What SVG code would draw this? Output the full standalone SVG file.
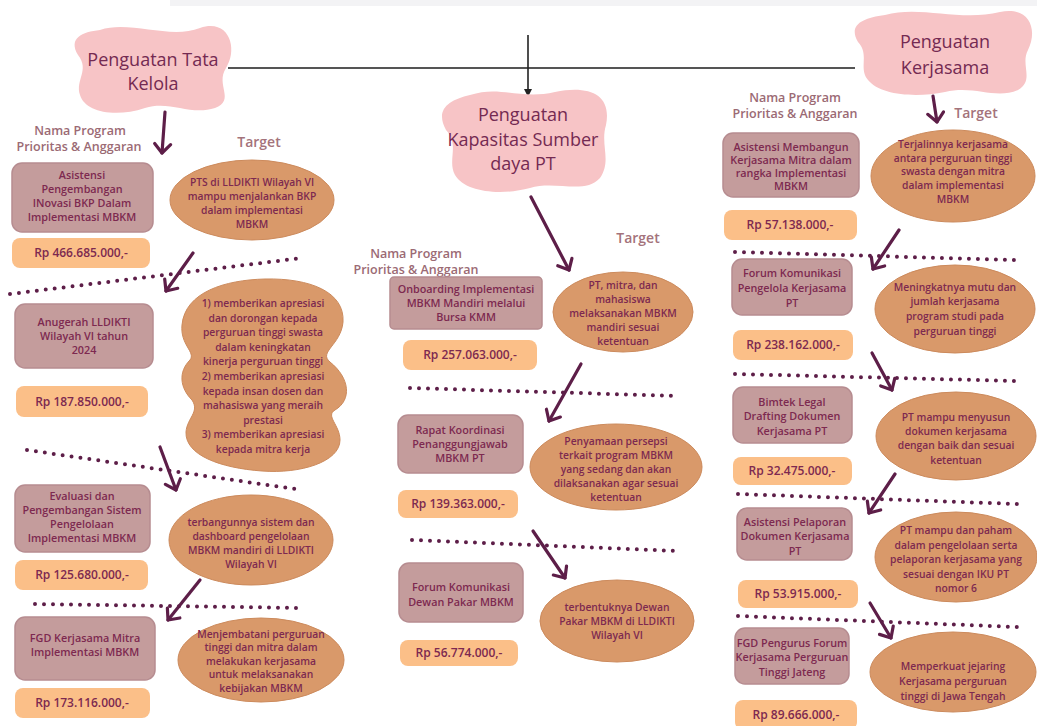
<svg xmlns="http://www.w3.org/2000/svg" width="1037" height="726" viewBox="0 0 1037 726">
<style>
.h{font-family:"Open Sans","Noto Sans",sans-serif;font-size:18px;font-weight:500;fill:#742a52;text-anchor:middle}
.lab{font-family:"Open Sans","Noto Sans",sans-serif;font-size:12.5px;font-weight:600;fill:#9b6a74;text-anchor:middle}
.tg{font-family:"Open Sans","Noto Sans",sans-serif;font-size:14px;font-weight:600;fill:#a4737b;text-anchor:middle}
.bt{font-family:"Open Sans","Noto Sans",sans-serif;font-size:10.8px;font-weight:600;fill:#7d2950;text-anchor:middle}
.et{font-family:"Open Sans","Noto Sans",sans-serif;font-size:10.3px;font-weight:600;fill:#7d2950;text-anchor:middle}
.at{font-family:"Open Sans","Noto Sans",sans-serif;font-size:12px;font-weight:600;fill:#7d2950;text-anchor:middle}
.blob{fill:#f7c4c6}
.box{fill:#c49c9c;stroke:#b68c90;stroke-width:1.5}
.amt{fill:#fbbf88}
.ell{fill:#d9996a;stroke:#cc8a5c;stroke-width:1}
.dot{stroke:#5d1e48;stroke-width:4;stroke-linecap:round;stroke-dasharray:0 9;fill:none}
.arr{stroke:#5d1e48;stroke-width:3.2;fill:none;stroke-linecap:round;marker-end:url(#chev)}
</style>
<defs>
<marker id="chev" markerUnits="userSpaceOnUse" markerWidth="20" markerHeight="20" refX="12" refY="10" orient="auto">
<path d="M3,2 L12,10 L3,18" fill="none" stroke="#5d1e48" stroke-width="3.2" stroke-linecap="round" stroke-linejoin="round"/>
</marker>
<marker id="tri" markerUnits="userSpaceOnUse" markerWidth="10" markerHeight="10" refX="8" refY="5" orient="auto">
<path d="M0,1 L8,5 L0,9 Z" fill="#222"/>
</marker>
</defs>
<rect x="0" y="0" width="1037" height="726" fill="#ffffff"/>
<rect x="170" y="0" width="867" height="6" fill="#f3f3f5"/>

<g id="connectors">
<line x1="228" y1="68" x2="855" y2="68" stroke="#555" stroke-width="2"/>
<line x1="528" y1="35" x2="528" y2="97" stroke="#222" stroke-width="1.6" marker-end="url(#tri)"/>
<line class="arr" x1="165" y1="112" x2="162" y2="153"/>
<line class="arr" x1="531" y1="197" x2="569" y2="270"/>
<line class="arr" x1="933" y1="96" x2="937" y2="122"/>
<line class="dot" x1="10" y1="294" x2="302" y2="258"/>
<line class="dot" x1="27" y1="450" x2="302" y2="490"/>
<line class="dot" x1="35" y1="604" x2="302" y2="608"/>
<line class="arr" x1="193" y1="253" x2="166" y2="291"/>
<line class="arr" x1="160" y1="447" x2="176" y2="490"/>
<line class="arr" x1="200" y1="580" x2="168" y2="620"/>
<line class="dot" x1="410" y1="388" x2="678" y2="396"/>
<line class="dot" x1="412" y1="540" x2="678" y2="551"/>
<line class="arr" x1="581" y1="364" x2="549" y2="421"/>
<line class="arr" x1="533" y1="531" x2="565" y2="578"/>
<line class="dot" x1="735" y1="252" x2="1015" y2="260"/>
<line class="dot" x1="735" y1="374" x2="1015" y2="381"/>
<line class="dot" x1="738" y1="494" x2="1017" y2="504"/>
<line class="dot" x1="738" y1="616" x2="1017" y2="627"/>
<line class="arr" x1="899" y1="230" x2="873" y2="269"/>
<line class="arr" x1="872" y1="353" x2="892" y2="390"/>
<line class="arr" x1="895" y1="474" x2="869" y2="513"/>
<line class="arr" x1="870" y1="603" x2="891" y2="638"/>
</g>

<g id="head-tata-kelola">
<path class="blob" d="M100,30 C130,20 170,40 200,28 C230,18 238,50 226,68 C215,85 236,100 215,108 C190,116 170,100 145,108 C115,118 85,112 80,95 C75,80 90,70 78,55 C68,38 82,32 100,30 Z"/>
<text class="h" x="153" y="66">Penguatan Tata</text>
<text class="h" x="153" y="90">Kelola</text>
</g>
<g id="head-kapasitas">
<path class="blob" d="M470,95 C500,85 520,100 555,92 C590,85 612,95 606,125 C600,145 612,160 600,178 C585,195 555,180 530,188 C500,196 465,192 455,175 C447,160 460,145 446,130 C435,110 448,100 470,95 Z"/>
<text class="h" x="523" y="121">Penguatan</text>
<text class="h" x="523" y="146">Kapasitas Sumber</text>
<text class="h" x="523" y="170">daya PT</text>
</g>
<g id="head-kerjasama">
<path class="blob" d="M885,15 C920,5 960,22 1000,12 C1030,6 1038,30 1028,50 C1020,65 1035,80 1018,90 C995,100 975,85 945,92 C915,98 880,95 868,80 C858,68 870,55 858,42 C848,25 862,18 885,15 Z"/>
<text class="h" x="945" y="48">Penguatan</text>
<text class="h" x="945" y="74">Kerjasama</text>
</g>

<g id="labels">
<text class="lab" x="80" y="135">Nama Program</text>
<text class="lab" x="79" y="151">Prioritas &amp; Anggaran</text>
<text class="tg" x="259" y="147">Target</text>
<text class="lab" x="416" y="258">Nama Program</text>
<text class="lab" x="416" y="274">Prioritas &amp; Anggaran</text>
<text class="tg" x="638" y="243">Target</text>
<text class="lab" x="795" y="102">Nama Program</text>
<text class="lab" x="795" y="118">Prioritas &amp; Anggaran</text>
<text class="tg" x="976" y="118">Target</text>
</g>

<g id="L1-program">
<rect class="box" x="12" y="163" width="141" height="69" rx="10"/>
<text class="bt" x="82" y="179">Asistensi</text>
<text class="bt" x="82" y="193">Pengembangan</text>
<text class="bt" x="82" y="207">INovasi BKP Dalam</text>
<text class="bt" x="82" y="221">Implementasi MBKM</text>
</g>
<g id="L1-amount">
<rect class="amt" x="12" y="238" width="138" height="30" rx="8"/>
<text class="at" x="81" y="257">Rp 466.685.000,-</text>
</g>
<g id="L1-target">
<ellipse class="ell" cx="252" cy="200" rx="82" ry="40"/>
<text class="et" x="252" y="186">PTS di LLDIKTI Wilayah VI</text>
<text class="et" x="252" y="200">mampu menjalankan BKP</text>
<text class="et" x="252" y="214">dalam implementasi</text>
<text class="et" x="252" y="228">MBKM</text>
</g>

<g id="L2-program">
<rect class="box" x="15" y="304" width="138" height="64" rx="10"/>
<text class="bt" x="84" y="326">Anugerah LLDIKTI</text>
<text class="bt" x="84" y="340">Wilayah VI tahun</text>
<text class="bt" x="84" y="354">2024</text>
</g>
<g id="L2-amount">
<rect class="amt" x="16" y="386" width="132" height="31" rx="8"/>
<text class="at" x="82" y="406">Rp 187.850.000,-</text>
</g>
<g id="L2-target">
<path class="ell" d="M265,279 C310,278 345,292 343,322 C341,345 318,352 330,362 C350,378 352,400 335,410 C325,416 340,425 340,440 C340,462 300,474 262,471 C220,468 185,455 186,432 C187,418 200,412 192,400 C180,388 178,372 190,360 C196,352 180,345 182,325 C185,292 225,280 265,279 Z"/>
<text class="et" x="263" y="307">1) memberikan apresiasi</text>
<text class="et" x="263" y="321.6">dan dorongan kepada</text>
<text class="et" x="263" y="336.2">perguruan tinggi swasta</text>
<text class="et" x="263" y="350.8">dalam keningkatan</text>
<text class="et" x="263" y="365.4">kinerja perguruan tinggi</text>
<text class="et" x="263" y="380">2) memberikan apresiasi</text>
<text class="et" x="263" y="394.6">kepada insan dosen dan</text>
<text class="et" x="263" y="409.2">mahasiswa yang meraih</text>
<text class="et" x="263" y="423.8">prestasi</text>
<text class="et" x="263" y="438.4">3) memberikan apresiasi</text>
<text class="et" x="263" y="453">kepada mitra kerja</text>
</g>

<g id="L3-program">
<rect class="box" x="15" y="485" width="135" height="67" rx="10"/>
<text class="bt" x="82" y="500">Evaluasi dan</text>
<text class="bt" x="82" y="514">Pengembangan Sistem</text>
<text class="bt" x="82" y="528">Pengelolaan</text>
<text class="bt" x="82" y="542">Implementasi MBKM</text>
</g>
<g id="L3-amount">
<rect class="amt" x="15" y="560" width="133" height="30" rx="8"/>
<text class="at" x="82" y="579">Rp 125.680.000,-</text>
</g>
<g id="L3-target">
<ellipse class="ell" cx="251" cy="540" rx="82" ry="45"/>
<text class="et" x="251" y="526">terbangunnya sistem dan</text>
<text class="et" x="251" y="540">dashboard pengelolaan</text>
<text class="et" x="251" y="554">MBKM mandiri di LLDIKTI</text>
<text class="et" x="251" y="568">Wilayah VI</text>
</g>

<g id="L4-program">
<rect class="box" x="15" y="617" width="140" height="63" rx="10"/>
<text class="bt" x="85" y="642">FGD Kerjasama Mitra</text>
<text class="bt" x="85" y="656">Implementasi MBKM</text>
</g>
<g id="L4-amount">
<rect class="amt" x="15" y="688" width="135" height="30" rx="8"/>
<text class="at" x="82" y="707">Rp 173.116.000,-</text>
</g>
<g id="L4-target">
<ellipse class="ell" cx="261" cy="660" rx="83" ry="42"/>
<text class="et" x="261" y="638">Menjembatani perguruan</text>
<text class="et" x="261" y="651">tinggi dan mitra dalam</text>
<text class="et" x="261" y="665">melakukan kerjasama</text>
<text class="et" x="261" y="678">untuk melaksanakan</text>
<text class="et" x="261" y="692">kebijakan MBKM</text>
</g>

<g id="M1-program">
<rect class="box" x="390" y="277" width="152" height="52" rx="4"/>
<text class="bt" x="466" y="293">Onboarding Implementasi</text>
<text class="bt" x="466" y="307">MBKM Mandiri melalui</text>
<text class="bt" x="466" y="321">Bursa KMM</text>
</g>
<g id="M1-amount">
<rect class="amt" x="403" y="340" width="134" height="30" rx="8"/>
<text class="at" x="470" y="359">Rp 257.063.000,-</text>
</g>
<g id="M1-target">
<ellipse class="ell" cx="623" cy="312" rx="70" ry="40"/>
<text class="et" x="623" y="289">PT, mitra, dan</text>
<text class="et" x="623" y="303">mahasiswa</text>
<text class="et" x="623" y="317">melaksanakan MBKM</text>
<text class="et" x="623" y="331">mandiri sesuai</text>
<text class="et" x="623" y="345">ketentuan</text>
</g>

<g id="M2-program">
<rect class="box" x="398" y="415" width="125" height="58" rx="10"/>
<text class="bt" x="460" y="434">Rapat Koordinasi</text>
<text class="bt" x="460" y="448">Penanggungjawab</text>
<text class="bt" x="460" y="462">MBKM PT</text>
</g>
<g id="M2-amount">
<rect class="amt" x="398" y="490" width="120" height="28" rx="8"/>
<text class="at" x="458" y="508">Rp 139.363.000,-</text>
</g>
<g id="M2-target">
<ellipse class="ell" cx="616" cy="467" rx="86" ry="43"/>
<text class="et" x="616" y="445">Penyamaan persepsi</text>
<text class="et" x="616" y="459">terkait program MBKM</text>
<text class="et" x="616" y="473">yang sedang dan akan</text>
<text class="et" x="616" y="487">dilaksanakan agar sesuai</text>
<text class="et" x="616" y="501">ketentuan</text>
</g>

<g id="M3-program">
<rect class="box" x="399" y="563" width="124" height="59" rx="10"/>
<text class="bt" x="461" y="591">Forum Komunikasi</text>
<text class="bt" x="461" y="606">Dewan Pakar MBKM</text>
</g>
<g id="M3-amount">
<rect class="amt" x="400" y="640" width="118" height="26" rx="8"/>
<text class="at" x="459" y="657">Rp 56.774.000,-</text>
</g>
<g id="M3-target">
<ellipse class="ell" cx="617" cy="621" rx="77" ry="41"/>
<text class="et" x="617" y="611">terbentuknya Dewan</text>
<text class="et" x="617" y="625">Pakar MBKM di LLDIKTI</text>
<text class="et" x="617" y="639">Wilayah VI</text>
</g>

<g id="R1-program">
<rect class="box" x="723" y="133" width="136" height="64" rx="10"/>
<text class="bt" x="791" y="151">Asistensi Membangun</text>
<text class="bt" x="791" y="164">Kerjasama Mitra dalam</text>
<text class="bt" x="791" y="177">rangka Implementasi</text>
<text class="bt" x="791" y="190">MBKM</text>
</g>
<g id="R1-amount">
<rect class="amt" x="724" y="210" width="133" height="30" rx="8"/>
<text class="at" x="790" y="229">Rp 57.138.000,-</text>
</g>
<g id="R1-target">
<ellipse class="ell" cx="953" cy="176" rx="82" ry="46"/>
<text class="et" x="953" y="148">Terjalinnya kerjasama</text>
<text class="et" x="953" y="162">antara perguruan tinggi</text>
<text class="et" x="953" y="175">swasta dengan mitra</text>
<text class="et" x="953" y="189">dalam implementasi</text>
<text class="et" x="953" y="203">MBKM</text>
</g>

<g id="R2-program">
<rect class="box" x="732" y="259" width="120" height="56" rx="10"/>
<text class="bt" x="792" y="277">Forum Komunikasi</text>
<text class="bt" x="792" y="292">Pengelola Kerjasama</text>
<text class="bt" x="792" y="307">PT</text>
</g>
<g id="R2-amount">
<rect class="amt" x="733" y="330" width="120" height="30" rx="8"/>
<text class="at" x="793" y="349">Rp 238.162.000,-</text>
</g>
<g id="R2-target">
<ellipse class="ell" cx="955" cy="309" rx="80" ry="44"/>
<text class="et" x="955" y="291">Meningkatnya mutu dan</text>
<text class="et" x="955" y="305">jumlah kerjasama</text>
<text class="et" x="955" y="320">program studi pada</text>
<text class="et" x="955" y="335">perguruan tinggi</text>
</g>

<g id="R3-program">
<rect class="box" x="733" y="387" width="119" height="56" rx="10"/>
<text class="bt" x="792" y="406">Bimtek Legal</text>
<text class="bt" x="792" y="420">Drafting Dokumen</text>
<text class="bt" x="792" y="435">Kerjasama PT</text>
</g>
<g id="R3-amount">
<rect class="amt" x="733" y="457" width="119" height="28" rx="8"/>
<text class="at" x="792" y="475">Rp 32.475.000,-</text>
</g>
<g id="R3-target">
<ellipse class="ell" cx="956" cy="436" rx="80" ry="44"/>
<text class="et" x="956" y="421">PT mampu menyusun</text>
<text class="et" x="956" y="435">dokumen kerjasama</text>
<text class="et" x="956" y="449">dengan baik dan sesuai</text>
<text class="et" x="956" y="464">ketentuan</text>
</g>

<g id="R4-program">
<rect class="box" x="737" y="508" width="115" height="52" rx="10"/>
<text class="bt" x="795" y="526">Asistensi Pelaporan</text>
<text class="bt" x="795" y="540">Dokumen Kerjasama</text>
<text class="bt" x="795" y="555">PT</text>
</g>
<g id="R4-amount">
<rect class="amt" x="738" y="580" width="120" height="28" rx="8"/>
<text class="at" x="798" y="598">Rp 53.915.000,-</text>
</g>
<g id="R4-target">
<ellipse class="ell" cx="956" cy="557" rx="81" ry="45"/>
<text class="et" x="956" y="534">PT mampu dan paham</text>
<text class="et" x="956" y="549">dalam pengelolaan serta</text>
<text class="et" x="956" y="563">pelaporan kerjasama yang</text>
<text class="et" x="956" y="578">sesuai dengan IKU PT</text>
<text class="et" x="956" y="592">nomor 6</text>
</g>

<g id="R5-program">
<rect class="box" x="735" y="628" width="114" height="56" rx="10"/>
<text class="bt" x="792" y="647">FGD Pengurus Forum</text>
<text class="bt" x="792" y="661">Kerjasama Perguruan</text>
<text class="bt" x="792" y="676">Tinggi Jateng</text>
</g>
<g id="R5-amount">
<rect class="amt" x="735" y="700" width="122" height="30" rx="8"/>
<text class="at" x="796" y="719">Rp 89.666.000,-</text>
</g>
<g id="R5-target">
<ellipse class="ell" cx="953" cy="672" rx="83" ry="40"/>
<text class="et" x="953" y="670">Memperkuat jejaring</text>
<text class="et" x="953" y="685">Kerjasama perguruan</text>
<text class="et" x="953" y="700">tinggi di Jawa Tengah</text>
</g>
</svg>
